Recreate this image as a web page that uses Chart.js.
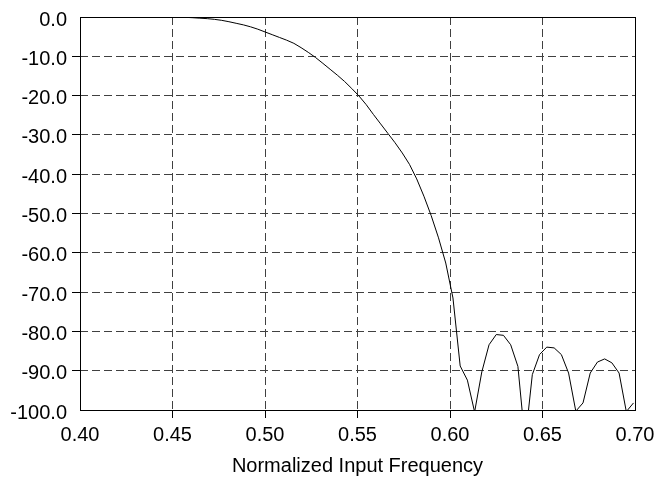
<!DOCTYPE html>
<html>
<head>
<meta charset="utf-8">
<script src="https://cdn.jsdelivr.net/npm/chart.js@4.4.1/dist/chart.umd.min.js"></script>
<style>
  html, body { margin: 0; padding: 0; background: #ffffff; }
  #wrap { width: 665px; height: 480px; }
</style>
</head>
<body>
<div id="wrap"><canvas id="c" width="665" height="480"></canvas></div>
<script>
// Normalized input frequency of each sample
const frequencies = [
  0.4531, 0.4570, 0.4609, 0.4648, 0.4688, 0.4727, 0.4766, 0.4805,
  0.4844, 0.4883, 0.4922, 0.4961, 0.5000, 0.5039, 0.5078, 0.5117,
  0.5156, 0.5195, 0.5234, 0.5273, 0.5313, 0.5352, 0.5391, 0.5430,
  0.5469, 0.5508, 0.5547, 0.5586, 0.5625, 0.5664, 0.5703, 0.5742,
  0.5781, 0.5820, 0.5859, 0.5898, 0.5938, 0.5977, 0.6016, 0.6055,
  0.6094, 0.6133, 0.6172, 0.6211, 0.6250, 0.6289, 0.6328, 0.6367,
  0.6406, 0.6445, 0.6484, 0.6523, 0.6563, 0.6602, 0.6641, 0.6680,
  0.6719, 0.6758, 0.6797, 0.6836, 0.6875, 0.6914, 0.6953, 0.6992
];
// Magnitude response (dB)
const magnitudeDb = [
  -0.02, -0.08, -0.18, -0.3, -0.42, -0.6, -0.85, -1.2,
  -1.6, -2.0, -2.5, -3.1, -3.8, -4.5, -5.2, -5.9,
  -6.7, -7.8, -9.0, -10.3, -11.8, -13.3, -14.8, -16.4,
  -18.2, -20.1, -22.3, -24.8, -27.2, -29.6, -32.0, -34.6,
  -37.5, -41.2, -45.6, -50.5, -56.2, -62.6, -71.5, -88.8,
  -92.4, -100.5, -90.3, -83.4, -80.8, -81.0, -83.4, -88.9,
  -108.0, -91.0, -85.9, -84.0, -84.2, -85.9, -90.6, -100.3,
  -98.2, -90.6, -87.8, -87.0, -88.0, -90.6, -100.4, -98.2
];
const xTicks = [0.40, 0.45, 0.50, 0.55, 0.60, 0.65, 0.70];
const yTicks = [0, -10, -20, -30, -40, -50, -60, -70, -80, -90, -100];
const xTitle = 'Normalized Input Frequency';

const points = frequencies.map((f, i) => ({ x: f, y: magnitudeDb[i] }));

const FONT = { family: '"Liberation Sans", Arial, sans-serif', size: 20 };
const GRID = '#404040';

const frame = {
  id: 'frame',
  afterDatasetsDraw(chart) {
    const a = chart.chartArea, ctx = chart.ctx;
    ctx.save();
    ctx.strokeStyle = '#000';
    ctx.lineWidth = 1;
    ctx.setLineDash([]);
    const l = Math.round(a.left) + 0.5, t = Math.round(a.top) + 0.5;
    const r = Math.round(a.right) + 0.5, b = Math.round(a.bottom) + 0.5;
    ctx.strokeRect(l, t, r - l, b - t);
    ctx.restore();
  }
};

const edgeTick = (n) => (c) => (c.index === 0 || c.index === n - 1) ? 'rgba(0,0,0,0)' : '#000';

new Chart(document.getElementById('c'), {
  type: 'line',
  data: {
    datasets: [{
      data: points,
      borderColor: '#000',
      borderWidth: 1,
      pointRadius: 0,
      tension: 0,
      fill: false
    }]
  },
  options: {
    responsive: false,
    animation: false,
    events: [],
    layout: { padding: { left: 0, right: 30, top: 13, bottom: 0 } },
    plugins: { legend: { display: false }, tooltip: { enabled: false } },
    scales: {
      x: {
        type: 'linear',
        min: xTicks[0],
        max: xTicks[xTicks.length - 1],
        afterBuildTicks: (s) => { s.ticks = xTicks.map(v => ({ value: v })); },
        afterFit: (s) => { s.height = 70; },
        ticks: {
          color: '#000',
          font: FONT,
          padding: 5,
          maxRotation: 0,
          autoSkip: false,
          callback: (v) => Number(v).toFixed(2)
        },
        grid: {
          color: GRID,
          lineWidth: 1,
          drawTicks: true,
          tickLength: 8,
          tickColor: edgeTick(xTicks.length),
          tickBorderDash: [8, 4]
        },
        border: { display: false, dash: [8, 4] },
        title: {
          display: true,
          text: xTitle,
          color: '#000',
          font: FONT,
          padding: { top: 8, bottom: 2 }
        }
      },
      y: {
        type: 'linear',
        min: -100,
        max: 0,
        afterBuildTicks: (s) => { s.ticks = yTicks.slice().reverse().map(v => ({ value: v })); },
        afterFit: (s) => { s.width = 80; },
        ticks: {
          color: '#000',
          font: FONT,
          padding: 5,
          labelOffset: 3,
          autoSkip: false,
          callback: (v) => Number(v).toFixed(1)
        },
        grid: {
          color: GRID,
          lineWidth: 1,
          drawTicks: true,
          tickLength: 8,
          tickColor: edgeTick(yTicks.length),
          tickBorderDash: []
        },
        border: { display: false, dash: [8, 4] }
      }
    }
  },
  plugins: [frame]
});
</script>
</body>
</html>
